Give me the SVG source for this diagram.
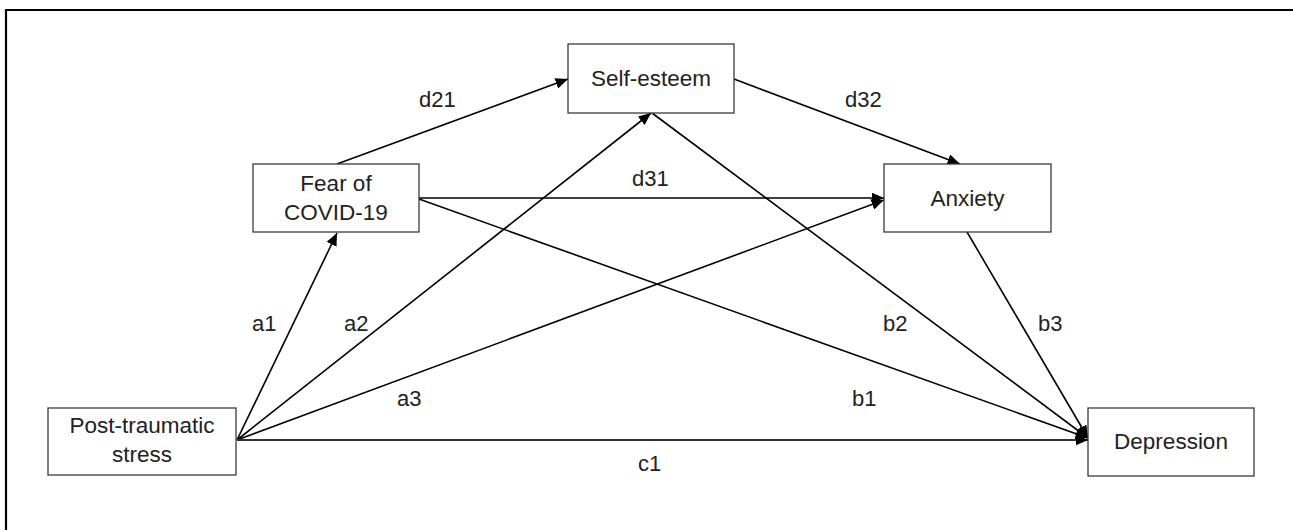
<svg xmlns="http://www.w3.org/2000/svg" width="1293" height="530" viewBox="0 0 1293 530">
<style>
  .box { fill: #ffffff; stroke: #3a3a3a; stroke-width: 1.3; }
  .node-text { font-family: "Liberation Sans", Arial, sans-serif; font-size: 22.5px; fill: #222222; text-anchor: middle; }
  .label { font-family: "Liberation Sans", Arial, sans-serif; font-size: 22px; fill: #222222; }
  .edge { stroke: #000000; stroke-width: 1.6; fill: none; marker-end: url(#arrow); }
  .frame { stroke: #000000; stroke-width: 2.2; fill: none; }
</style>
<defs>
  <marker id="arrow" markerUnits="userSpaceOnUse" markerWidth="13" markerHeight="11" refX="12.5" refY="5.5" orient="auto">
    <path d="M0,0 L12.5,5.5 L0,11 z" fill="#000000"/>
  </marker>
</defs>
<rect width="1293" height="530" fill="#ffffff"/>
<path class="frame" d="M6,530 L6,10 L1293,10"/>

<g id="connectors">
  <line id="a1" class="edge" x1="237" y1="440" x2="337" y2="233"/>
  <line id="a2" class="edge" x1="237" y1="440" x2="651" y2="113"/>
  <line id="a3" class="edge" x1="237" y1="440" x2="884" y2="200"/>
  <line id="c1" class="edge" x1="237" y1="440" x2="1088" y2="440" style="stroke:#333;stroke-width:2"/>
  <line id="d21" class="edge" x1="337" y1="164" x2="568" y2="79"/>
  <line id="d31" class="edge" x1="419" y1="198" x2="884" y2="198"/>
  <line id="d32" class="edge" x1="734" y1="79" x2="960" y2="164"/>
  <line id="b1" class="edge" x1="419" y1="199" x2="1088" y2="438"/>
  <line id="b2" class="edge" x1="652" y1="113" x2="1088" y2="438"/>
  <line id="b3" class="edge" x1="967" y1="232" x2="1088" y2="438"/>
  <text class="label" x="419" y="107">d21</text>
  <text class="label" x="632" y="186">d31</text>
  <text class="label" x="845" y="107">d32</text>
  <text class="label" x="252" y="331">a1</text>
  <text class="label" x="344" y="331">a2</text>
  <text class="label" x="397" y="406">a3</text>
  <text class="label" x="883" y="331">b2</text>
  <text class="label" x="1038" y="331">b3</text>
  <text class="label" x="852" y="406">b1</text>
  <text class="label" x="638" y="471">c1</text>
</g>

<g id="node-pts">
  <rect class="box" x="48" y="408" width="188" height="67"/>
  <text class="node-text" x="142" y="433">Post-traumatic</text>
  <text class="node-text" x="142" y="462">stress</text>
</g>
<g id="node-fear">
  <rect class="box" x="253" y="164" width="166" height="68"/>
  <text class="node-text" x="336" y="191">Fear of</text>
  <text class="node-text" x="336" y="220">COVID-19</text>
</g>
<g id="node-selfesteem">
  <rect class="box" x="568" y="44" width="166" height="69"/>
  <text class="node-text" x="651" y="86">Self-esteem</text>
</g>
<g id="node-anxiety">
  <rect class="box" x="884" y="164" width="167" height="68"/>
  <text class="node-text" x="967.5" y="206">Anxiety</text>
</g>
<g id="node-depression">
  <rect class="box" x="1088" y="408" width="166" height="68"/>
  <text class="node-text" x="1171" y="449">Depression</text>
</g>
</svg>
